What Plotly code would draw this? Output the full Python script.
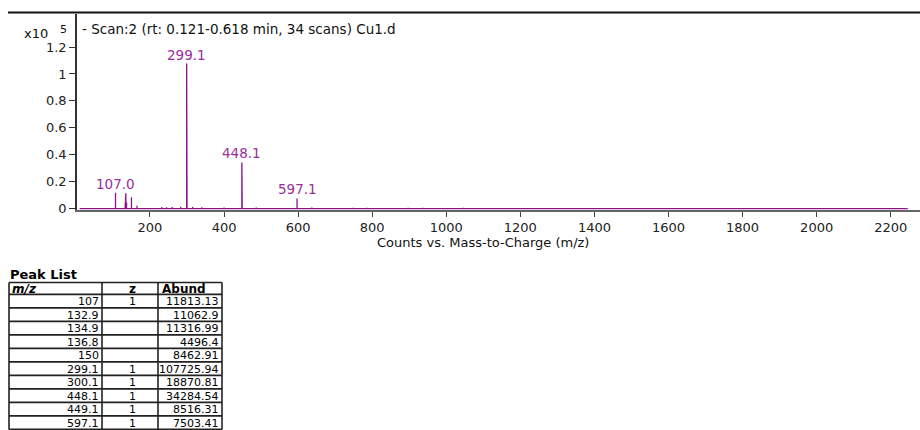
import plotly.graph_objects as go

# ---- data -------------------------------------------------------------
# peak list (m/z, charge, abundance)
peak_mz = [107.0, 132.9, 134.9, 136.8, 150.0, 299.1, 300.1, 448.1, 449.1, 597.1]
peak_z = ["1", "", "", "", "", "1", "1", "1", "1", "1"]
peak_abund = [11813.13, 11062.9, 11316.99, 4496.4, 8462.91,
              107725.94, 18870.81, 34284.54, 8516.31, 7503.41]

# minor ions in the scan (m/z, counts)
minor_mz = [165, 232, 245, 260, 283, 315, 340, 400, 487, 637, 748, 786, 897, 937, 1046]
minor_counts = [2000, 1200, 900, 1100, 1400, 1100, 900, 800, 800, 800, 600, 600, 600, 500, 500]

labeled_mz = [107.0, 299.1, 448.1, 597.1]

scan_start, scan_end = 10, 2246
x_ticks = list(range(200, 2201, 200))
y_ticks = [0, 0.2, 0.4, 0.6, 0.8, 1.0, 1.2]
y_scale = 1e5

title_text = "- Scan:2 (rt: 0.121-0.618 min, 34 scans) Cu1.d"
x_title = "Counts vs. Mass-to-Charge (m/z)"
table_title = "Peak List"
table_headers = ["m/z", "z", "Abund"]

# ---- figure geometry (pixels) -----------------------------------------
W, H = 920, 430


def px(x):
    return x / W


def py(y):
    return 1 - y / H


PURPLE = "#8B148B"
LABEL_PURPLE = "#9A2E9A"
CFONT = "DejaVu Sans"
TICK_SIZE = 13
TEXT_SIZE = 13.5

# ---- spectrum as a stick trace on a baseline ---------------------------
sticks = sorted(list(zip(peak_mz, peak_abund)) + list(zip(minor_mz, minor_counts)))
xs, ys = [scan_start], [0]
for m, a in sticks:
    xs += [m, m, m]
    ys += [0, a / y_scale, 0]
xs.append(scan_end)
ys.append(0)

fig = go.Figure()
fig.add_trace(go.Scatter(
    x=xs, y=ys, mode="lines",
    line=dict(color=PURPLE, width=1.3),
    hoverinfo="skip", showlegend=False,
))

annotations = []
for m, a in zip(peak_mz, peak_abund):
    if m in labeled_mz:
        annotations.append(dict(
            x=m, y=a / y_scale, xref="x", yref="y",
            text=f"{m:.1f}", showarrow=False,
            xanchor="center", yanchor="bottom", yshift=-1,
            font=dict(family=CFONT, size=TEXT_SIZE, color=LABEL_PURPLE),
        ))

# header texts around the plot
annotations.append(dict(
    x=px(80), y=py(29), xref="paper", yref="paper", text=title_text,
    showarrow=False, xanchor="left", yanchor="middle",
    font=dict(family=CFONT, size=TEXT_SIZE, color="#111"),
))
annotations.append(dict(
    x=px(22), y=py(34), xref="paper", yref="paper", text="x10",
    showarrow=False, xanchor="left", yanchor="middle",
    font=dict(family=CFONT, size=TICK_SIZE, color="#111"),
))
annotations.append(dict(
    x=px(58), y=py(30), xref="paper", yref="paper", text="5",
    showarrow=False, xanchor="left", yanchor="middle",
    font=dict(family=CFONT, size=11, color="#111"),
))
annotations.append(dict(
    x=px(483), y=py(246), xref="paper", yref="paper", text=x_title,
    showarrow=False, xanchor="center", yanchor="middle",
    font=dict(family=CFONT, size=TICK_SIZE, color="#111"),
))

# ---- peak list table ---------------------------------------------------
shapes = [dict(type="line", xref="paper", yref="paper",
               x0=px(8), x1=px(920), y0=py(12.7), y1=py(12.7),
               line=dict(color="#111", width=2))]

tbl_left, tbl_c1, tbl_c2, tbl_right = 9, 102, 158, 222
tbl_top, head_bottom, row_h = 286.5, 298.5, 13.7
n_rows = len(peak_mz)
row_lines = [tbl_top, head_bottom] + [head_bottom + row_h * (i + 1) for i in range(n_rows)]
tbl_bottom = row_lines[-1]
for yy in row_lines:
    shapes.append(dict(type="line", xref="paper", yref="paper",
                       x0=px(tbl_left), x1=px(tbl_right), y0=py(yy), y1=py(yy),
                       line=dict(color="#222", width=1.6)))
for xx in (tbl_left, tbl_c1, tbl_c2, tbl_right):
    shapes.append(dict(type="line", xref="paper", yref="paper",
                       x0=px(xx), x1=px(xx), y0=py(tbl_top), y1=py(tbl_bottom),
                       line=dict(color="#222", width=1.6)))

TFONT = "DejaVu Sans"
annotations.append(dict(
    x=px(8), y=py(278), xref="paper", yref="paper", text=f"<b>{table_title}</b>",
    showarrow=False, xanchor="left", yanchor="middle",
    font=dict(family=TFONT, size=13, color="#000"),
))
head_y = (tbl_top + head_bottom) / 2 + 0.5
head_font = dict(family=TFONT, size=12, color="#000")
annotations += [
    dict(x=px(10), y=py(head_y), text=f"<b><i>{table_headers[0]}</i></b>",
         xanchor="left", font=head_font),
    dict(x=px((tbl_c1 + tbl_c2) / 2 + 2), y=py(head_y), text=f"<b>{table_headers[1]}</b>",
         xanchor="center", font=head_font),
    dict(x=px(tbl_c2 + 2), y=py(head_y), text=f"<b>{table_headers[2]}</b>",
         xanchor="left", font=head_font),
]
for a in annotations[-3:]:
    a.update(xref="paper", yref="paper", showarrow=False, yanchor="middle")

cell_font = dict(family=TFONT, size=11, color="#000")
for i, (m, z, ab) in enumerate(zip(peak_mz, peak_z, peak_abund)):
    yc = head_bottom + row_h * i + row_h / 2 + 0.5
    annotations.append(dict(x=px(tbl_c1 - 1), y=py(yc), xref="paper", yref="paper",
                            text=f"{m:g}", showarrow=False, xanchor="right",
                            yanchor="middle", font=cell_font))
    if z:
        annotations.append(dict(x=px((tbl_c1 + tbl_c2) / 2 + 2), y=py(yc), xref="paper",
                                yref="paper", text=z, showarrow=False, xanchor="center",
                                yanchor="middle", font=cell_font))
    annotations.append(dict(x=px(tbl_right - 1), y=py(yc), xref="paper", yref="paper",
                            text=str(ab), showarrow=False, xanchor="right",
                            yanchor="middle", font=cell_font))

# ---- axes ------------------------------------------------------------------
fig.update_layout(
    width=W, height=H,
    margin=dict(l=0, r=0, t=0, b=0),
    paper_bgcolor="white", plot_bgcolor="white",
    showlegend=False,
    xaxis=dict(
        domain=[px(77), 1.0], range=[3, 2279],
        tickvals=x_ticks, ticktext=[str(v) for v in x_ticks],
        ticks="outside", ticklen=5, tickwidth=1, tickcolor="#444",
        showline=True, linecolor="#666", linewidth=1.5,
        showgrid=False, zeroline=False,
        tickfont=dict(family=CFONT, size=TICK_SIZE, color="#222"),
    ),
    yaxis=dict(
        domain=[py(213), py(14)], range=[-0.011, 1.447],
        tickvals=y_ticks, ticktext=[f"{v:g}" for v in y_ticks],
        ticks="outside", ticklen=6, tickwidth=1, tickcolor="#333",
        showline=True, linecolor="#333", linewidth=1.6,
        showgrid=False, zeroline=False,
        tickfont=dict(family=CFONT, size=TICK_SIZE, color="#222"),
    ),
    annotations=annotations,
    shapes=shapes,
)

fig.write_html("out.html")
